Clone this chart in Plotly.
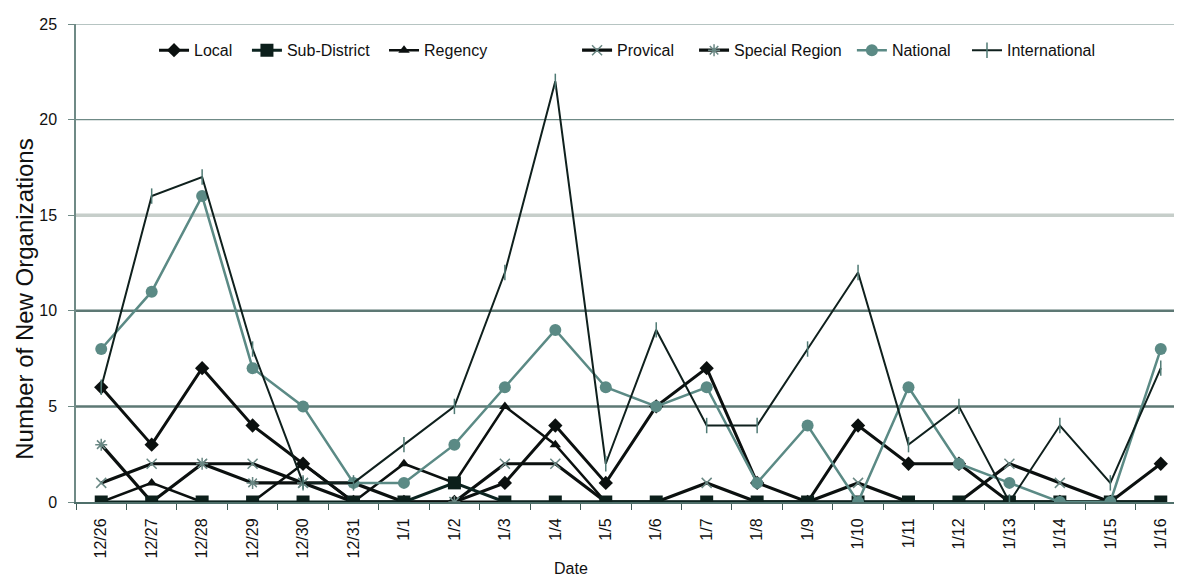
import plotly.graph_objects as go

dates = ["12/26", "12/27", "12/28", "12/29", "12/30", "12/31",
         "1/1", "1/2", "1/3", "1/4", "1/5", "1/6", "1/7", "1/8",
         "1/9", "1/10", "1/11", "1/12", "1/13", "1/14", "1/15", "1/16"]

local = [6, 3, 7, 4, 2, 0, 0, 0, 1, 4, 1, 5, 7, 1, 0, 4, 2, 2, 0, 0, 0, 2]
sub_district = [0, 0, 0, 0, 0, 0, 0, 1, 0, 0, 0, 0, 0, 0, 0, 0, 0, 0, 0, 0, 0, 0]
regency = [0, 1, 0, 0, 2, 0, 2, 1, 5, 3, 0, 0, 0, 0, 0, 0, 0, 0, 0, 0, 0, 0]
provical = [1, 2, 2, 2, 1, 0, 0, 0, 2, 2, 0, 0, 1, 0, 0, 1, 0, 0, 2, 1, 0, 0]
special_region = [3, 0, 2, 1, 1, 1, 0, 0, 0, 0, 0, 0, 0, 0, 0, 0, 0, 0, 0, 0, 0, 0]
national = [8, 11, 16, 7, 5, 1, 1, 3, 6, 9, 6, 5, 6, 1, 4, 0, 6, 2, 1, 0, 0, 8]
international = [6, 16, 17, 8, 1, 1, 3, 5, 12, 22, 2, 9, 4, 4, 8, 12, 3, 5, 0, 4, 1, 7]

y_ticks = [0, 5, 10, 15, 20, 25]
grid_levels = [5, 10, 15, 20, 25]
grid_colors = ["#5d7874", "#5d7874", "#c6ceca", "#6f8a86", "#6f8a86"]
grid_widths = [2.5, 2.5, 3.5, 1.2, 1.2]

FONT = "Liberation Sans, Arial, sans-serif"
DARK = "#0b100f"
TEAL = "#5b8a85"

# legend entry positions (paper x) for each series, in legend order
legend_x = [0.0703, 0.154, 0.2775, 0.4514, 0.5568, 0.699, 0.8027]

series = {
    "Local": (local, dict(color=DARK, width=3),
              dict(symbol="diamond", size=11, color=DARK)),
    "Sub-District": (sub_district, dict(color="#0c2420", width=3),
                     dict(symbol="square", size=13, color="#0c1f1b")),
    "Regency": (regency, dict(color=DARK, width=2.5),
                dict(symbol="triangle-up", size=10, color=DARK)),
    "Provical": (provical, dict(color=DARK, width=3.2),
                 dict(symbol="x-thin-open", size=10, color="#6a8884",
                      line=dict(width=1.5, color="#6a8884"))),
    "Special Region": (special_region, dict(color=DARK, width=3.2),
                       dict(symbol="asterisk-open", size=10, color="#6a8884",
                            line=dict(width=1.5, color="#6a8884"))),
    "National": (national, dict(color=TEAL, width=2.5),
                 dict(symbol="circle", size=12, color=TEAL)),
    "International": (international, dict(color="#0f201d", width=2),
                      dict(symbol="line-ns-open", size=11, color="#4f7a74",
                           line=dict(width=1.5, color="#4f7a74"))),
}
legend_order = ["Local", "Sub-District", "Regency", "Provical",
                "Special Region", "National", "International"]
draw_order = ["Local", "Regency", "Provical", "Special Region",
              "Sub-District", "National", "International"]

fig = go.Figure()
for name in draw_order:
    vals, line, marker = series[name]
    idx = legend_order.index(name)
    lg = "legend" if idx == 0 else f"legend{idx + 1}"
    fig.add_trace(go.Scatter(x=dates, y=vals, name=name, mode="lines+markers",
                             line=line, marker=marker, legend=lg))

for lvl, col, w in zip(grid_levels, grid_colors, grid_widths):
    fig.add_shape(type="line", xref="paper", x0=0, x1=1, yref="y", y0=lvl, y1=lvl,
                  line=dict(color=col, width=w), layer="below")

fig.add_shape(type="line", xref="paper", x0=1, x1=1, yref="paper", y0=0, y1=1,
              line=dict(color="#bfc6c3", width=2), layer="below")

legend_style = dict(orientation="h", xanchor="left", y=0.945, yanchor="middle",
                    bgcolor="rgba(0,0,0,0)", font=dict(size=16, family=FONT, color="#111"),
                    itemwidth=30)
legends = {}
for i, lx in enumerate(legend_x):
    key = "legend" if i == 0 else f"legend{i + 1}"
    legends[key] = dict(legend_style, x=lx)

fig.update_layout(
    width=1182, height=578,
    margin=dict(l=68, r=4, t=16, b=84),
    paper_bgcolor="white", plot_bgcolor="white",
    font=dict(family=FONT, color="#111"),
    showlegend=True,
    annotations=[
        dict(text="Date", xref="paper", yref="paper", x=0.446, y=-0.14,
             xanchor="center", yanchor="middle", showarrow=False,
             font=dict(size=16, family=FONT, color="#111")),
        dict(text="Number of New Organizations", xref="paper", yref="paper",
             x=-0.046, y=0.425, xanchor="center", yanchor="middle", textangle=-90,
             showarrow=False, font=dict(size=24, family=FONT, color="#111")),
    ],
    **legends,
)

fig.update_xaxes(
    type="category", range=[-0.5, len(dates) - 0.5],
    tickangle=-90, tickfont=dict(size=16, family=FONT, color="#111"),
    showline=True, linecolor="#4f6f6a", linewidth=2,
    ticks="outside", tickson="boundaries", ticklen=6, tickcolor="#3d5a55",
    showgrid=False, zeroline=False, ticklabelstandoff=8,
)
fig.update_yaxes(
    range=[0, 25], tickvals=y_ticks, tickfont=dict(size=16, family=FONT, color="#111"),
    showline=True, linecolor="#6f8a86", linewidth=1.5,
    ticks="outside", ticklen=6, tickcolor="#6f8a86",
    showgrid=False, zeroline=False, ticklabelstandoff=8,
)

fig.write_html("out.html")
